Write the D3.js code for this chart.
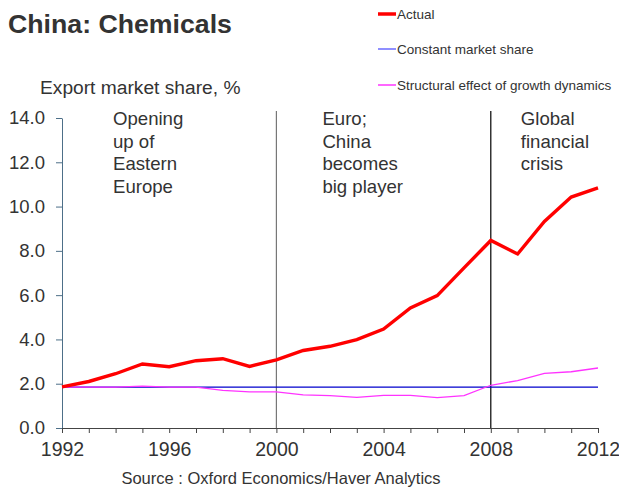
<!DOCTYPE html>
<html><head><meta charset="utf-8">
<script src="https://cdn.jsdelivr.net/npm/d3@7"></script>
<style>body{margin:0;background:#fff}svg{display:block;font-family:"Liberation Sans",Arial,sans-serif}</style>
</head><body><svg id="c" width="619" height="491"></svg>
<script>
const years = d3.range(1992, 2013);
const actual = [1.86,2.10,2.45,2.89,2.77,3.04,3.13,2.78,3.08,3.50,3.69,3.99,4.47,5.42,5.98,7.23,8.47,7.86,9.33,10.43,10.84];
const constantShare = [1.85,1.85,1.85,1.85,1.85,1.85,1.85,1.85,1.85,1.85,1.85,1.85,1.85,1.85,1.85,1.85,1.85,1.85,1.85,1.85,1.85];
const structural = [1.85,1.85,1.85,1.89,1.85,1.85,1.70,1.63,1.63,1.50,1.46,1.38,1.47,1.47,1.37,1.46,1.93,2.14,2.47,2.54,2.71];
const yTicks = [0,2,4,6,8,10,12,14];
const xLabels = [1992,1996,2000,2004,2008,2012];
const periods = [
  {x:1992, dx:51, lines:["Opening","up of","Eastern","Europe"]},
  {x:2000, dx:46, lines:["Euro;","China","becomes","big player"]},
  {x:2008, dx:30, lines:["Global","financial","crisis"]}
];
const dividers = [{year:2000,color:"#777"},{year:2008,color:"#000"}];
const legendItems = [
  {label:"Actual", color:"#ff0000", w:3.5},
  {label:"Constant market share", color:"#6a6aff", w:1.5},
  {label:"Structural effect of growth dynamics", color:"#ff00ff", w:1.2}
];

const svg = d3.select("#c");
const x = d3.scaleLinear().domain([1992,2012]).range([62,598]);
const y = d3.scaleLinear().domain([0,14]).range([428,118]);

svg.append("text").attr("x",8).attr("y",33).attr("font-size",26.7).attr("font-weight","bold").attr("fill","#333").text("China: Chemicals");
svg.append("text").attr("x",40).attr("y",94).attr("font-size",19.2).attr("fill","#333").text("Export market share, %");

// legend
const lg = svg.append("g");
legendItems.forEach((d,i)=>{
  const yy = [14,49,85][i];
  lg.append("line").attr("x1",378).attr("x2",396).attr("y1",yy).attr("y2",yy).attr("stroke",d.color).attr("stroke-width",d.w);
  lg.append("text").attr("x",397).attr("y",yy+5).attr("font-size",13.5).attr("fill","#333").text(d.label);
});

// dividers
dividers.forEach(d=>{
  svg.append("line").attr("x1",x(d.year)).attr("x2",x(d.year)).attr("y1",111).attr("y2",428).attr("stroke",d.color).attr("stroke-width",1.2);
});

// y axis
const ya = svg.append("g").attr("transform","translate(62,0)")
  .call(d3.axisLeft(y).tickValues(yTicks).tickFormat(d3.format(".1f")).tickSize(6).tickPadding(11).tickSizeOuter(0));
ya.select(".domain").attr("stroke","#4d6f88");
ya.selectAll(".tick line").attr("stroke","#4d6f88");
ya.selectAll("text").attr("font-size",18.5).attr("fill","#333").attr("font-family","Liberation Sans, Arial, sans-serif");

// x axis
const xa = svg.append("g").attr("transform","translate(0,428)")
  .call(d3.axisBottom(x).tickValues(years).tickFormat(d=> xLabels.includes(d)?d:"").tickSize(5).tickPadding(9).tickSizeOuter(0));
xa.select(".domain").attr("stroke","#444");
xa.selectAll(".tick line").attr("stroke","#444");
xa.selectAll("text").attr("font-size",19.5).attr("fill","#333").attr("font-family","Liberation Sans, Arial, sans-serif");

const line = vals => d3.line().x((d,i)=>x(years[i])).y(d=>y(d))(vals);
svg.append("path").attr("d",line(constantShare)).attr("fill","none").attr("stroke","#0000cc").attr("stroke-width",1.3);
svg.append("path").attr("d",line(structural)).attr("fill","none").attr("stroke","#ff33ff").attr("stroke-width",1.3);
svg.append("path").attr("d",line(actual)).attr("fill","none").attr("stroke","#ff0000").attr("stroke-width",3.4).attr("stroke-linejoin","miter");

// annotations
periods.forEach(p=>{
  const t = svg.append("text").attr("font-size",18.6).attr("fill","#333");
  p.lines.forEach((l,i)=>{
    t.append("tspan").attr("x",x(p.x)+p.dx).attr("y",125+i*22.7).text(l);
  });
});

svg.append("text").attr("x",281).attr("y",484).attr("text-anchor","middle").attr("font-size",16.5).attr("fill","#333").text("Source : Oxford Economics/Haver Analytics");
</script></body></html>
